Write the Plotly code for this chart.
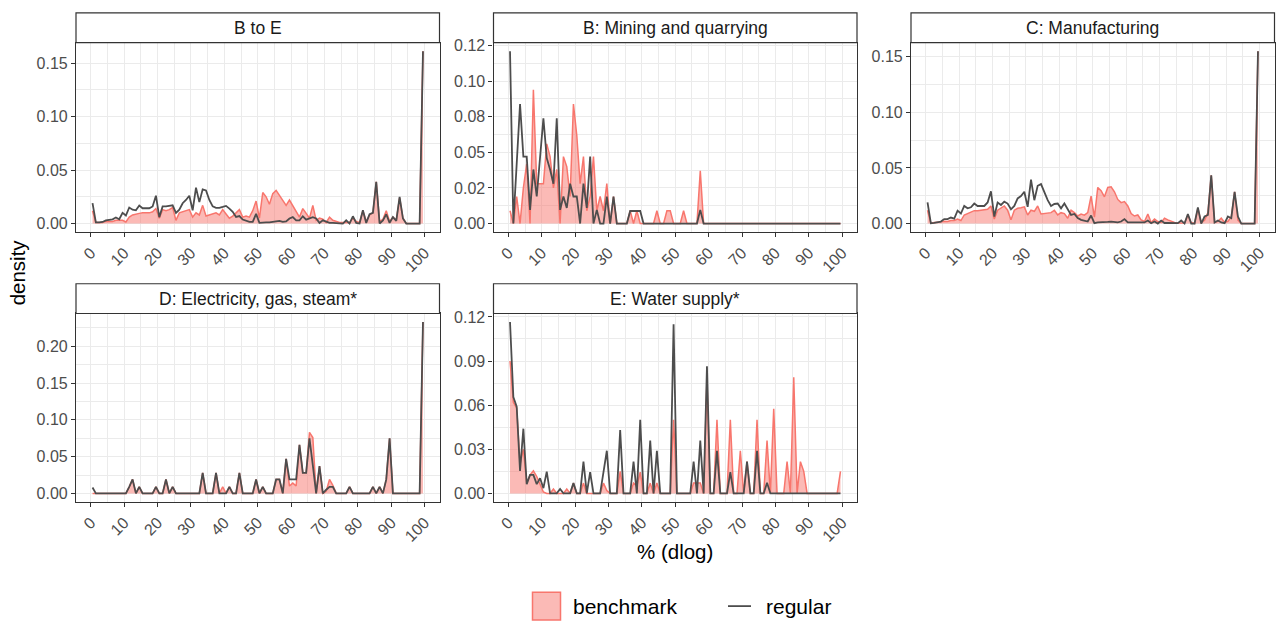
import plotly.graph_objects as go

W, H = 1282, 621

# ---------------- data ----------------
x_pct = [i + 0.5 for i in range(100)]
x_ticks = [0, 10, 20, 30, 40, 50, 60, 70, 80, 90, 100]
x_ticklabels = [str(v) for v in x_ticks]

panel_titles = ["B to E", "B: Mining and quarrying", "C: Manufacturing",
                "D: Electricity, gas, steam*", "E: Water supply*"]

bte_benchmark = [
    0.012, 0.001, 0.001, 0.001, 0.002, 0.002, 0.002, 0.003, 0.003, 0.003,
    0.0015, 0.006, 0.008, 0.009, 0.0095, 0.010, 0.010, 0.010, 0.011, 0.014,
    0.005, 0.013, 0.012, 0.013, 0.015, 0.003, 0.010, 0.011, 0.012, 0.013,
    0.006, 0.010, 0.008, 0.017, 0.007, 0.008, 0.009, 0.010, 0.008, 0.013,
    0.009, 0.005, 0.007, 0.010, 0.013, 0.006, 0.007, 0.006, 0.012, 0.021,
    0.005, 0.029, 0.025, 0.018, 0.028, 0.031, 0.026, 0.021, 0.017, 0.022,
    0.017, 0.012, 0.006, 0.014, 0.010, 0.005, 0.017, 0.003, 0.005, 0.004,
    0.001, 0.006, 0.003, 0.002, 0.001, 0.001, 0.001, 0.001, 0.005, 0.002,
    0.001, 0.012, 0.002, 0.008, 0.010, 0.039, 0.002, 0.004, 0.012, 0.002,
    0.006, 0.003, 0.024, 0.005, 0.0, 0.0, 0.0, 0.0, 0.0, 0.161]
bte_regular = [
    0.019, 0.001, 0.001, 0.0015, 0.003, 0.0037, 0.004, 0.0056, 0.004, 0.010,
    0.0075, 0.015, 0.013, 0.0124, 0.0168, 0.0143, 0.0143, 0.0143, 0.016, 0.026,
    0.006, 0.016, 0.016, 0.0168, 0.017, 0.010, 0.013, 0.019, 0.022, 0.026,
    0.0124, 0.0336, 0.020, 0.032, 0.031, 0.022, 0.016, 0.0146, 0.0146, 0.0155,
    0.0165, 0.014, 0.011, 0.0062, 0.007, 0.0037, 0.0025, 0.0015, 0.0015, 0.009,
    0.0006, 0.001, 0.001, 0.001, 0.0012, 0.002, 0.0025, 0.0015, 0.0019, 0.0047,
    0.006, 0.003, 0.003, 0.0068, 0.0037, 0.0047, 0.006, 0.0047, 0.0006, 0.003,
    0.0015, 0.0006, 0.0006, 0.0006, 0.0, 0.0, 0.003, 0.0, 0.0068, 0.0006,
    0.0, 0.0124, 0.0006, 0.0087, 0.010, 0.039, 0.0, 0.003, 0.0087, 0.0006,
    0.006, 0.0025, 0.025, 0.0047, 0.0, 0.0, 0.0, 0.0, 0.0, 0.161]

mining_benchmark = [
    0.009, 0.0, 0.019, 0.0, 0.025, 0.042, 0.0, 0.094, 0.028, 0.028,
    0.028, 0.056, 0.047, 0.025, 0.038, 0.0, 0.047, 0.040, 0.019, 0.084,
    0.062, 0.028, 0.047, 0.009, 0.019, 0.047, 0.009, 0.019, 0.009, 0.028,
    0.0, 0.019, 0.0, 0.0, 0.0, 0.0, 0.009, 0.0, 0.009, 0.0,
    0.0, 0.0, 0.0, 0.0, 0.009, 0.0, 0.0, 0.009, 0.009, 0.0,
    0.0, 0.0, 0.009, 0.0, 0.0, 0.0, 0.0, 0.037, 0.0, 0.0,
    0.0, 0.0, 0.0, 0.0, 0.0, 0.0, 0.0, 0.0, 0.0, 0.0,
    0.0, 0.0, 0.0, 0.0, 0.0, 0.0, 0.0, 0.0, 0.0, 0.0,
    0.0, 0.0, 0.0, 0.0, 0.0, 0.0, 0.0, 0.0, 0.0, 0.0,
    0.0, 0.0, 0.0, 0.0, 0.0, 0.0, 0.0, 0.0, 0.0, 0.0]
mining_regular = [
    0.121, 0.0, 0.042, 0.084, 0.047, 0.047, 0.0096, 0.038, 0.019, 0.047,
    0.074, 0.046, 0.038, 0.028, 0.074, 0.0096, 0.019, 0.011, 0.028, 0.019,
    0.019, 0.0, 0.028, 0.011, 0.047, 0.0, 0.0096, 0.0, 0.0, 0.019,
    0.0, 0.019, 0.0, 0.0, 0.0, 0.0, 0.0088, 0.0088, 0.0088, 0.0088,
    0.0, 0.0, 0.0, 0.0, 0.0, 0.0, 0.0, 0.0, 0.0, 0.0,
    0.0, 0.0, 0.0, 0.0, 0.0, 0.0, 0.0, 0.0096, 0.0, 0.0,
    0.0, 0.0, 0.0, 0.0, 0.0, 0.0, 0.0, 0.0, 0.0, 0.0,
    0.0, 0.0, 0.0, 0.0, 0.0, 0.0, 0.0, 0.0, 0.0, 0.0,
    0.0, 0.0, 0.0, 0.0, 0.0, 0.0, 0.0, 0.0, 0.0, 0.0,
    0.0, 0.0, 0.0, 0.0, 0.0, 0.0, 0.0, 0.0, 0.0, 0.0]

manuf_benchmark = [
    0.012, 0.0003, 0.001, 0.001, 0.0015, 0.002, 0.0018, 0.0027, 0.0027, 0.004,
    0.0027, 0.0077, 0.009, 0.011, 0.0116, 0.0116, 0.012, 0.012, 0.0128, 0.0158,
    0.004, 0.012, 0.0137, 0.0158, 0.012, 0.0033, 0.012, 0.0137, 0.0143, 0.015,
    0.0077, 0.012, 0.011, 0.0158, 0.0086, 0.009, 0.009, 0.0098, 0.012, 0.0077,
    0.0098, 0.009, 0.0048, 0.012, 0.0098, 0.0068, 0.0086, 0.0075, 0.0098, 0.0247,
    0.0057, 0.0325, 0.0295, 0.024, 0.0325, 0.033, 0.0286, 0.0217, 0.0188, 0.0197,
    0.0158, 0.009, 0.0068, 0.0077, 0.0033, 0.0018, 0.0086, 0.001, 0.004, 0.0018,
    0.001, 0.0048, 0.0033, 0.0018, 0.001, 0.0005, 0.0005, 0.0005, 0.0077, 0.001,
    0.0, 0.0137, 0.001, 0.003, 0.0098, 0.0435, 0.001, 0.002, 0.0048, 0.001,
    0.002, 0.006, 0.0286, 0.003, 0.0, 0.0, 0.0, 0.0, 0.0, 0.155]
manuf_regular = [
    0.019, 0.0003, 0.0006, 0.001, 0.0018, 0.004, 0.004, 0.0054, 0.0045, 0.0116,
    0.009, 0.0158, 0.0137, 0.0146, 0.018, 0.0158, 0.0158, 0.0158, 0.019, 0.029,
    0.0063, 0.019, 0.0167, 0.0197, 0.018, 0.0128, 0.0158, 0.0226, 0.0247, 0.0286,
    0.015, 0.0396, 0.021, 0.034, 0.0355, 0.0277, 0.021, 0.0158, 0.0176, 0.018,
    0.0137, 0.018, 0.0122, 0.0077, 0.0086, 0.005, 0.0033, 0.0027, 0.0018, 0.0072,
    0.0003, 0.001, 0.001, 0.0012, 0.0015, 0.0018, 0.0012, 0.001, 0.0018, 0.004,
    0.001, 0.001, 0.001, 0.0012, 0.001, 0.001, 0.0027, 0.0003, 0.0018, 0.0,
    0.0027, 0.0005, 0.0005, 0.0005, 0.0005, 0.0003, 0.0027, 0.0, 0.0086, 0.0,
    0.0, 0.0146, 0.0, 0.0063, 0.0077, 0.0435, 0.001, 0.0027, 0.001, 0.0003,
    0.0063, 0.0048, 0.0286, 0.0063, 0.0, 0.0, 0.0, 0.0, 0.0, 0.155]

elec_benchmark = [
    0.0, 0.0, 0.0, 0.0, 0.0, 0.0, 0.0, 0.0, 0.0, 0.0,
    0.0, 0.009, 0.019, 0.0, 0.009, 0.0, 0.0, 0.0, 0.0, 0.009,
    0.0, 0.0, 0.019, 0.0, 0.009, 0.0, 0.0, 0.0, 0.0, 0.0,
    0.0, 0.0, 0.0, 0.028, 0.0, 0.0, 0.0, 0.028, 0.0, 0.009,
    0.0, 0.009, 0.0, 0.0, 0.028, 0.0, 0.0, 0.0, 0.0, 0.019,
    0.0, 0.009, 0.0, 0.0, 0.0, 0.019, 0.019, 0.0, 0.047, 0.010,
    0.014, 0.010, 0.066, 0.028, 0.028, 0.083, 0.076, 0.0, 0.037, 0.0,
    0.003, 0.019, 0.011, 0.0, 0.0, 0.0, 0.0, 0.009, 0.0, 0.0,
    0.0, 0.0, 0.0, 0.0, 0.009, 0.0, 0.009, 0.0, 0.019, 0.075,
    0.0, 0.0, 0.0, 0.0, 0.0, 0.0, 0.0, 0.0, 0.0, 0.233]
elec_regular = [
    0.008, 0.0, 0.0, 0.0, 0.0, 0.0, 0.0, 0.0, 0.0, 0.0,
    0.0, 0.009, 0.019, 0.0, 0.009, 0.0, 0.0, 0.0, 0.0, 0.009,
    0.0, 0.0, 0.019, 0.0, 0.009, 0.0, 0.0, 0.0, 0.0, 0.0,
    0.0, 0.0, 0.0, 0.028, 0.0, 0.0, 0.0, 0.028, 0.0, 0.0,
    0.0, 0.009, 0.0, 0.0, 0.028, 0.0, 0.0, 0.0, 0.0, 0.019,
    0.0, 0.009, 0.0, 0.0, 0.0, 0.019, 0.019, 0.0, 0.047, 0.019,
    0.019, 0.019, 0.066, 0.028, 0.028, 0.075, 0.038, 0.0, 0.037, 0.0,
    0.005, 0.009, 0.009, 0.0, 0.0, 0.0, 0.0, 0.009, 0.0, 0.0,
    0.0, 0.0, 0.0, 0.0, 0.009, 0.0, 0.009, 0.0, 0.019, 0.075,
    0.0, 0.0, 0.0, 0.0, 0.0, 0.0, 0.0, 0.0, 0.0, 0.233]

water_benchmark = [
    0.090, 0.062, 0.058, 0.020, 0.030, 0.007, 0.0126, 0.0153, 0.0115, 0.006,
    0.001, 0.0, 0.0, 0.003, 0.0, 0.0, 0.0, 0.003, 0.0, 0.007,
    0.0, 0.0, 0.007, 0.0, 0.0, 0.0, 0.0, 0.0, 0.007, 0.002,
    0.0, 0.0, 0.0, 0.015, 0.0, 0.0, 0.0, 0.007, 0.005, 0.0144,
    0.0, 0.0, 0.007, 0.0, 0.007, 0.0, 0.0, 0.0, 0.0, 0.050,
    0.0, 0.0, 0.0, 0.0, 0.0, 0.007, 0.007, 0.007, 0.0, 0.078,
    0.0, 0.0, 0.050, 0.0, 0.0, 0.0, 0.050, 0.0, 0.0, 0.029,
    0.0, 0.0216, 0.0, 0.0, 0.050, 0.0, 0.0, 0.036, 0.0, 0.0576,
    0.0, 0.0, 0.0, 0.0216, 0.0, 0.079, 0.0, 0.0216, 0.015, 0.0,
    0.0, 0.0, 0.0, 0.0, 0.0, 0.0, 0.0, 0.0, 0.0, 0.015]
water_regular = [
    0.1165, 0.0655, 0.059, 0.0153, 0.044, 0.0063, 0.0126, 0.0126, 0.0063, 0.0103,
    0.0036, 0.0148, 0.0, 0.0, 0.0, 0.003, 0.0, 0.0, 0.0, 0.007,
    0.0, 0.0, 0.0216, 0.0, 0.0144, 0.0, 0.0, 0.0, 0.0144, 0.029,
    0.0, 0.0, 0.0, 0.043, 0.0, 0.0, 0.0, 0.0216, 0.0, 0.050,
    0.0, 0.0, 0.036, 0.0, 0.029, 0.0, 0.0, 0.0, 0.0, 0.115,
    0.0, 0.0, 0.0, 0.0, 0.0, 0.0216, 0.0, 0.036, 0.0, 0.0864,
    0.0, 0.0, 0.029, 0.0, 0.0, 0.0, 0.0144, 0.0, 0.0, 0.0,
    0.0, 0.0216, 0.0, 0.0, 0.029, 0.0, 0.0, 0.0072, 0.0, 0.0,
    0.0, 0.0, 0.0, 0.0, 0.0, 0.0, 0.0, 0.0, 0.0, 0.0,
    0.0, 0.0, 0.0, 0.0, 0.0, 0.0, 0.0, 0.0, 0.0, 0.0]

y_breaks = [
    [0.0, 0.05, 0.10, 0.15],
    [0.0, 0.025, 0.05, 0.075, 0.10, 0.125],
    [0.0, 0.05, 0.10, 0.15],
    [0.0, 0.05, 0.10, 0.15, 0.20],
    [0.0, 0.03, 0.06, 0.09, 0.12],
]
y_labels = [
    ["0.00", "0.05", "0.10", "0.15"],
    ["0.00", "0.02", "0.05", "0.08", "0.10", "0.12"],
    ["0.00", "0.05", "0.10", "0.15"],
    ["0.00", "0.05", "0.10", "0.15", "0.20"],
    ["0.00", "0.03", "0.06", "0.09", "0.12"],
]

series = [
    (bte_benchmark, bte_regular),
    (mining_benchmark, mining_regular),
    (manuf_benchmark, manuf_regular),
    (elec_benchmark, elec_regular),
    (water_benchmark, water_regular),
]

# ---------------- layout geometry (pixels) ----------------
col_x = [(76, 439.5), (493.5, 857), (911, 1274.5)]
row_y = [(38, 229), (311, 501)]   # plot area top/bottom
strip_h = 30
slots = [(0, 0), (0, 1), (0, 2), (1, 0), (1, 1)]

FONT = "Liberation Sans, Arial, sans-serif"
BORDER = "#333333"
GRID = "#EBEBEB"
RED = "#F8766D"
FILL = "rgba(248,118,109,0.5)"
DARK = "#4D4D4D"


def px(x):
    return x / W


def py(y):
    return 1 - y / H


fig = go.Figure()
shapes = []
annotations = []

for k, ((r, c), title, (bench, reg), yb, yl) in enumerate(
        zip(slots, panel_titles, series, y_breaks, y_labels)):
    n = k + 1
    xs = "x" if n == 1 else f"x{n}"
    ys = "y" if n == 1 else f"y{n}"
    fig.add_trace(go.Scatter(x=x_pct, y=bench, mode="lines", fill="tozeroy",
                             fillcolor=FILL, line=dict(color=RED, width=1.5),
                             xaxis=xs, yaxis=ys, showlegend=False,
                             name="benchmark"))
    fig.add_trace(go.Scatter(x=x_pct, y=reg, mode="lines",
                             line=dict(color=DARK, width=1.8),
                             xaxis=xs, yaxis=ys, showlegend=False,
                             name="regular"))

    x0p, x1p = col_x[c]
    y0p, y1p = row_y[r]
    xmin, xmax = min(x_pct), max(x_pct)
    xspan = xmax - xmin
    ymax = max(max(bench), max(reg))
    ymin = 0.0
    yspan = ymax - ymin
    yrange = [ymin - 0.05 * yspan, ymax + 0.05 * yspan]

    step = yb[1] - yb[0]
    ext = yb + [yb[-1] + step]
    yminor = [(a + b) / 2 for a, b in zip(ext[:-1], ext[1:])]
    yminor = [v for v in yminor if yrange[0] <= v <= yrange[1]]
    xminor = [(a + b) / 2 for a, b in zip(x_ticks[:-1], x_ticks[1:])]

    axkey = "" if n == 1 else str(n)
    fig.layout["xaxis" + axkey] = dict(
        domain=[px(x0p), px(x1p)], anchor=ys,
        range=[xmin - 0.05 * xspan, xmax + 0.05 * xspan],
        tickmode="array", tickvals=x_ticks, ticktext=x_ticklabels,
        tickangle=-45, ticks="outside", ticklen=4, tickwidth=1.1,
        tickcolor=BORDER, showline=True, mirror=True, linecolor=BORDER,
        linewidth=1.2, showgrid=True, gridcolor=GRID, gridwidth=1.1,
        zeroline=False, tickfont=dict(family=FONT, size=16, color=DARK),
        minor=dict(tickmode="array", tickvals=xminor, showgrid=True,
                   gridcolor=GRID, gridwidth=0.6, ticks=""),
    )
    fig.layout["yaxis" + axkey] = dict(
        domain=[py(y1p), py(y0p)], anchor=xs, range=yrange,
        tickmode="array", tickvals=yb, ticktext=yl,
        ticks="outside", ticklen=4, tickwidth=1.1, tickcolor=BORDER,
        showline=True, mirror=True, linecolor=BORDER, linewidth=1.2,
        showgrid=True, gridcolor=GRID, gridwidth=1.1, zeroline=False,
        tickfont=dict(family=FONT, size=16, color=DARK),
        minor=dict(tickmode="array", tickvals=yminor, showgrid=True,
                   gridcolor=GRID, gridwidth=0.6, ticks=""),
    )

    # strip
    shapes.append(dict(type="rect", xref="paper", yref="paper",
                       x0=px(x0p), x1=px(x1p), y0=py(y0p), y1=py(y0p - strip_h),
                       fillcolor="white", line=dict(color=BORDER, width=1.2),
                       layer="above"))
    annotations.append(dict(text=title, xref="paper", yref="paper",
                            x=px((x0p + x1p) / 2), y=py(y0p - strip_h / 2),
                            xanchor="center", yanchor="middle", showarrow=False,
                            font=dict(family=FONT, size=17.5, color="#1A1A1A")))

# axis titles
annotations.append(dict(text="density", xref="paper", yref="paper",
                        x=px(17), y=py((row_y[0][0] + row_y[1][1]) / 2),
                        textangle=-90, xanchor="center", yanchor="middle",
                        showarrow=False, font=dict(family=FONT, size=20.5, color="black")))
annotations.append(dict(text="% (dlog)", xref="paper", yref="paper",
                        x=px((col_x[0][0] + col_x[2][1]) / 2), y=py(551),
                        xanchor="center", yanchor="middle", showarrow=False,
                        font=dict(family=FONT, size=20.5, color="black")))

# legend (manual)
shapes.append(dict(type="rect", xref="paper", yref="paper",
                   x0=px(532.5), x1=px(560.5), y0=py(620), y1=py(592),
                   fillcolor=FILL, line=dict(color=RED, width=1.5)))
annotations.append(dict(text="benchmark", xref="paper", yref="paper",
                        x=px(571), y=py(606), xanchor="left", yanchor="middle",
                        showarrow=False, font=dict(family=FONT, size=21, color="black")))
shapes.append(dict(type="line", xref="paper", yref="paper",
                   x0=px(728), x1=px(751), y0=py(606), y1=py(606),
                   line=dict(color=DARK, width=1.8)))
annotations.append(dict(text="regular", xref="paper", yref="paper",
                        x=px(764), y=py(606), xanchor="left", yanchor="middle",
                        showarrow=False, font=dict(family=FONT, size=21, color="black")))

fig.update_layout(width=W, height=H, margin=dict(l=0, r=0, t=0, b=0),
                  paper_bgcolor="white", plot_bgcolor="white",
                  shapes=shapes, annotations=annotations,
                  font=dict(family=FONT), showlegend=False)

fig.write_html("out.html", config={"displayModeBar": False},
               post_script="document.body.style.margin='0';"
                           "document.body.style.overflow='hidden';")
